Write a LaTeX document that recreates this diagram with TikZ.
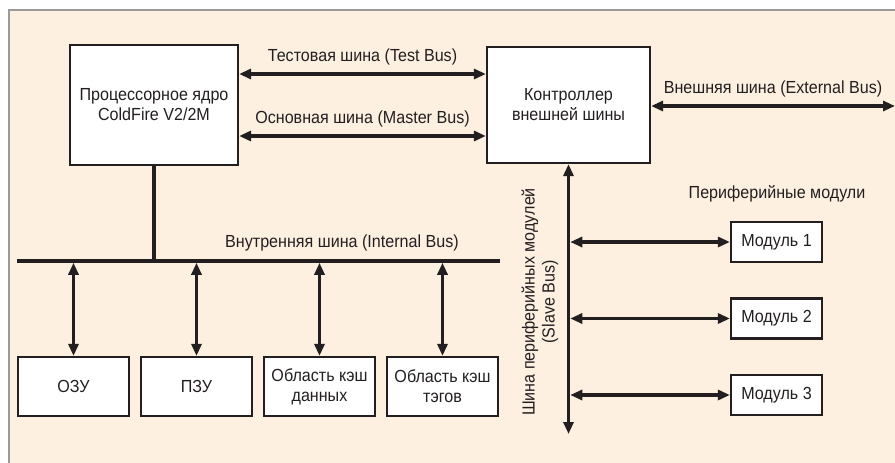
\documentclass[tikz,border=0pt]{standalone}
\usepackage{fontspec}
\setmainfont{Liberation Sans}[FakeStretch=0.92]
\usetikzlibrary{arrows.meta,positioning}
\definecolor{bgcream}{HTML}{FEF0E1}
\definecolor{framegray}{HTML}{9A9A9A}
\definecolor{inkdark}{HTML}{231F20}

\begin{document}
\begin{tikzpicture}[x=1pt,y=-1pt,on grid,
    blk/.style={draw=inkdark,line width=2.2pt,fill=white,inner sep=0pt,align=center,
      text=inkdark,font=\fontsize{17.5}{20}\selectfont},
    mem/.style={blk,minimum width=111pt,minimum height=59pt},
    mdl/.style={blk,minimum width=91pt,minimum height=40pt},
    bus/.style={draw=inkdark,line width=3.5pt,
      {Triangle[length=12pt,width=10pt]}-{Triangle[length=12pt,width=10pt]}},
    wire/.style={draw=inkdark,line width=3.5pt},
    lbl/.style={text=inkdark,font=\fontsize{17.5}{20}\selectfont,align=center,inner sep=0pt}]
  \useasboundingbox (0,0) rectangle (895,463);
  % frame
  \fill[bgcream] (9,10) rectangle (900,470);
  \draw[framegray,line width=2pt] (900,10) -- (9,10) -- (9,470);

  % core and controller
  \node[blk,minimum width=168pt,minimum height=120pt] (cpu) at (154,105) {Процессорное ядро\\ColdFire V2/2M};
  \node[blk,minimum width=163pt,minimum height=116pt] (ctrl) at (568.5,105) {Контроллер\\внешней шины};
  \draw[bus] ([yshift=31pt]cpu.east) -- node[lbl,above=7pt] {Тестовая шина (Test Bus)} ([yshift=31pt]ctrl.west);
  \draw[bus] ([yshift=-31pt]cpu.east) -- node[lbl,above=7pt] {Основная шина (Master Bus)} ([yshift=-31pt]ctrl.west);
  \coordinate (ext) at (895,106);
  \draw[bus] ([yshift=-1pt]ctrl.east) -- node[lbl,above=7pt] {Внешняя шина (External Bus)} (ext);

  % internal bus
  \coordinate (ibl) at (17,261);
  \coordinate (ibr) at (500,261);
  \draw[wire] (ibl) -- (ibr);
  \draw[wire] (cpu.south) -- (cpu.south |- ibl);
  \node[lbl] (iblabel) at (342,243) {Внутренняя шина (Internal Bus)};

  \node[mem] (ram) at (73.5,386.5) {ОЗУ};
  \node[mem,right=123pt of ram] (rom) {ПЗУ};
  \node[mem,right=123pt of rom] (dcache) {Область кэш\\данных};
  \node[mem,right=123pt of dcache] (tcache) {Область кэш\\тэгов};
  \draw[bus,shorten <=1.75pt] (ram.north |- ibl) -- (ram.north);
  \draw[bus,shorten <=1.75pt] (rom.north |- ibl) -- (rom.north);
  \draw[bus,shorten <=1.75pt] (dcache.north |- ibl) -- (dcache.north);
  \draw[bus,shorten <=1.75pt] (tcache.north |- ibl) -- (tcache.north);

  % slave bus
  \coordinate (sbend) at (568.5,434);
  \draw[bus] (ctrl.south) -- (sbend);
  \node[lbl,rotate=90] (sblabel) at (540,302) {Шина периферийных модулей\\(Slave Bus)};
  \node[lbl] (perlabel) at (777,194) {Периферийные модули};

  \node[mdl] (mod1) at (776.5,242) {Модуль 1};
  \node[mdl,below=76.5pt of mod1] (mod2) {Модуль 2};
  \node[mdl,below=76.5pt of mod2] (mod3) {Модуль 3};
  \draw[bus,shorten <=1.75pt] (mod1.west -| ctrl.south) -- (mod1.west);
  \draw[bus,shorten <=1.75pt] (mod2.west -| ctrl.south) -- (mod2.west);
  \draw[bus,shorten <=1.75pt] (mod3.west -| ctrl.south) -- (mod3.west);
\end{tikzpicture}
\end{document}
